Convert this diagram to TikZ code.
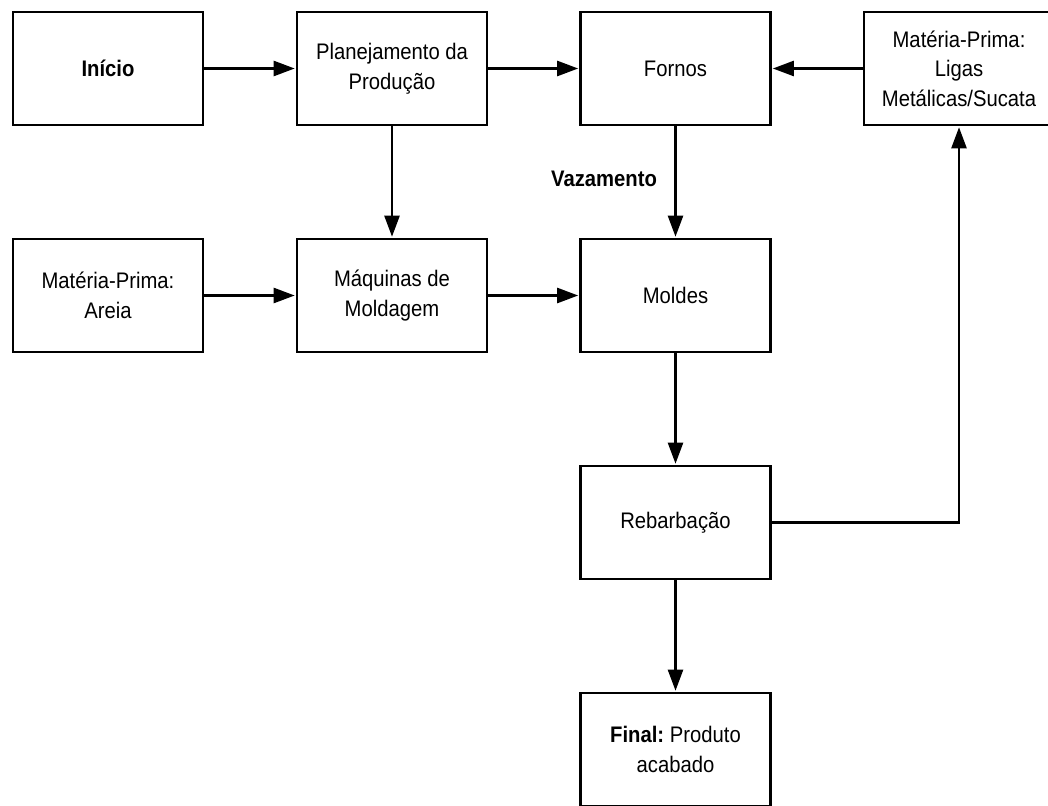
\documentclass[tikz,border=0pt]{standalone}
\usepackage{fontspec}
\setmainfont[FakeStretch=0.9]{Liberation Sans}
\usetikzlibrary{arrows.meta}
\begin{document}
\begin{tikzpicture}[x=1pt,y=-1pt,
  box/.style={draw,line width=2.6pt,minimum width=190pt,minimum height=113pt,align=center,
    font=\fontsize{22.5}{29.5}\selectfont,inner sep=0pt},
  arr/.style={line width=2.4pt,-{Triangle[length=21pt,width=15pt]},shorten >=1pt},
  lbl/.style={font=\fontsize{22.5}{29.5}\selectfont\bfseries,inner sep=0pt}]
\useasboundingbox[fill=white] (0,0) rectangle (1048,805);
\node[box] (inicio) at (108,68.5) {\textbf{Início}};
\node[box] (plan) at (392,68.5) {Planejamento da\\Produção};
\node[box] (fornos) at (675.5,68.5) {Fornos};
\node[box] (ligas) at (959,68.5) {Matéria-Prima:\\Ligas\\Metálicas/Sucata};
\node[box] (areia) at (108,295.5) {Matéria-Prima:\\Areia};
\node[box] (maq) at (392,295.5) {Máquinas de\\Moldagem};
\node[box] (moldes) at (675.5,295.5) {Moldes};
\node[box] (rebar) at (675.5,522.5) {Rebarbação};
\node[box] (final) at (675.5,749.5) {\textbf{Final:}~Produto\\acabado};
\node[lbl] (vaz) at (604,179) {Vazamento};
\draw[arr] (inicio) -- (plan);
\draw[arr] (plan) -- (fornos);
\draw[arr] (ligas) -- (fornos);
\draw[arr] (plan) -- (maq);
\draw[arr] (fornos) -- (moldes);
\draw[arr] (areia) -- (maq);
\draw[arr] (maq) -- (moldes);
\draw[arr] (moldes) -- (rebar);
\draw[arr] (rebar) -- (final);
\draw[arr] (rebar.east) -| (ligas.south);
\end{tikzpicture}
\end{document}
